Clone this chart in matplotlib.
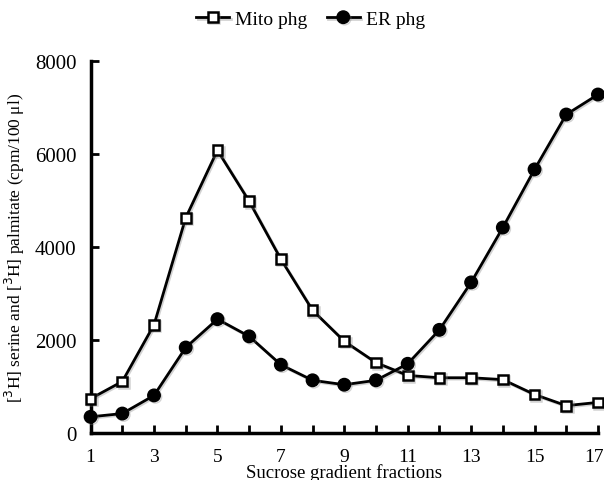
import matplotlib
matplotlib.use("Agg")
import matplotlib.pyplot as plt
import matplotlib.patheffects as pe
import matplotlib.transforms as mtransforms

plt.rcParams['font.family'] = ['Liberation Serif', 'DejaVu Serif']

fractions = list(range(1, 18))
mito_phg = [730, 1100, 2320, 4620, 6070, 4975, 3730, 2630, 1965, 1505, 1230, 1180, 1180, 1140, 820, 580, 650]
er_phg = [340, 410, 800, 1830, 2440, 2070, 1460, 1125, 1030, 1125, 1480, 2210, 3230, 4410, 5660, 6840, 7270]
xtick_labels = [1, 3, 5, 7, 9, 11, 13, 15, 17]
ytick_values = [0, 2000, 4000, 6000, 8000]

fig = plt.figure(figsize=(6.04, 4.81), dpi=100)
ax = fig.add_axes([0.150, 0.0985, 0.840, 0.7735])

shadow = [pe.SimpleLineShadow(offset=(1, -1), alpha=0.35, shadow_color='gray'), pe.Normal()]

ax.plot(fractions, mito_phg, color='black', lw=2, marker='s', ms=7,
        mfc='white', mec='black', mew=1.8, clip_on=False, zorder=3,
        label='Mito phg', path_effects=shadow)
ax.plot(fractions, er_phg, color='black', lw=2, marker='o', ms=9,
        mfc='black', mec='black', clip_on=False, zorder=4,
        label='ER phg', path_effects=shadow)

ax.set_xlim(1, 17)
ax.set_ylim(0, 8000)
ax.set_xticks(fractions)
ax.set_xticklabels([str(f) if f in xtick_labels else '' for f in fractions])
ax.set_yticks(ytick_values)
ax.tick_params(direction='in', length=6, width=2, colors='black')
ax.tick_params(axis='x', labelsize=14, pad=11)
ax.tick_params(axis='y', labelsize=15, pad=10)
for s in ['top', 'right']:
    ax.spines[s].set_visible(False)
for s in ['left', 'bottom']:
    ax.spines[s].set_linewidth(2.5)

# nudge last x tick label left so it fits in the figure, as in the reference
last = ax.get_xticklabels()[-1]
last.set_transform(last.get_transform() + mtransforms.ScaledTranslation(-4/100, 0, fig.dpi_scale_trans))

ax.set_xlabel('Sucrose gradient fractions', fontsize=13.5, labelpad=-1)
ax.set_ylabel('[$^{3}$H] serine and [$^{3}$H] palmitate (cpm/100 μl)', fontsize=12.5, labelpad=6)

leg = fig.legend(loc='center', bbox_to_anchor=(0.514, 0.958), ncol=2, frameon=False,
                 fontsize=14, handlelength=1.7, columnspacing=1.0, handletextpad=0.3)

fig.savefig('out.png', dpi=100)
